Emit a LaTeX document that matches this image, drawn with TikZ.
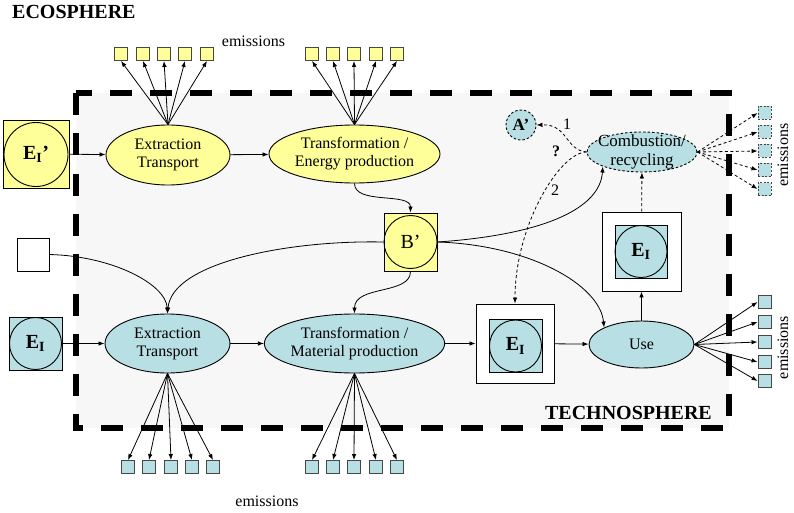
\documentclass[tikz,border=0pt]{standalone}
\usepackage{fontspec}
\setmainfont{Liberation Serif}
\usetikzlibrary{shapes.geometric,arrows.meta}
\definecolor{yfill}{RGB}{255,255,153}
\definecolor{bfill}{RGB}{184,223,227}
\definecolor{bgray}{RGB}{247,247,247}
\definecolor{boxline}{RGB}{70,70,70}
\begin{document}
\begin{tikzpicture}[x=1pt,y=-1pt,
  txt/.style={font=\fontsize{16}{18}\selectfont, align=center, inner sep=0pt},
  ell/.style={ellipse, draw, line width=0.9pt, inner sep=0pt, txt},
  arr/.style={line width=0.8pt, -{Latex[length=6pt,width=4.5pt]}},
  darr/.style={arr, dash pattern=on 3pt off 2.5pt},
  embox/.style={draw=boxline, line width=0.9pt, minimum size=13pt, inner sep=0pt},
  dembox/.style={embox, dash pattern=on 2pt off 1.5pt, fill=bfill},
  sqbox/.style={draw, line width=0.9pt, inner sep=0pt},
  ecirc/.style={circle, draw, line width=0.9pt, inner sep=0pt, font=\fontsize{20}{22}\selectfont\bfseries},
  bigtitle/.style={font=\fontsize{20}{22}\selectfont\bfseries, inner sep=0pt},
]
\useasboundingbox (0,0) rectangle (794,513);
% technosphere
\fill[bgray] (75.5,93.5) rectangle (729,428);
\draw[line width=6pt, dash pattern=on 22pt off 18pt] (75.5,93.5) rectangle (729,428);
\node[bigtitle, anchor=west] (eco) at (12,11.5) {ECOSPHERE};
\node[bigtitle, anchor=east] (techno) at (712,412.5) {TECHNOSPHERE};

% upper chain
\node[sqbox, fill=yfill, minimum width=66pt, minimum height=68pt] (eip) at (36,154) {};
\node[ecirc, minimum size=64pt] (eipc) at (36,154.5) {E\textsubscript{I}’};
\node[ell, fill=yfill, minimum width=124pt, minimum height=60pt] (ext1) at (168,155) {Extraction\\Transport};
\node[ell, fill=yfill, minimum width=171pt, minimum height=58pt] (tre) at (354.5,154) {Transformation /\\Energy production};
\node[sqbox, fill=yfill, minimum width=53pt, minimum height=58pt] (bp) at (410.5,242) {};
\node[circle, draw, line width=0.9pt, inner sep=0pt, minimum size=53pt, font=\fontsize{20}{22}\selectfont] (bpc) at (410.5,242) {B’};

% lower chain
\node[sqbox, fill=white, minimum width=32pt, minimum height=33pt] (blank) at (33,254.5) {};
\node[sqbox, fill=bfill, minimum size=53pt] (ei1) at (35.5,343.5) {};
\node[ecirc, minimum size=52pt] (ei1c) at (35.5,343.5) {E\textsubscript{I}};
\node[ell, fill=bfill, minimum width=125pt, minimum height=59pt] (ext2) at (167.5,343.5) {Extraction\\Transport};
\node[ell, fill=bfill, minimum width=171pt, minimum height=59pt] (trm) at (354.5,343.5) {Transformation /\\Material production};
\node[sqbox, fill=white, minimum width=78pt, minimum height=79pt] (ei2o) at (515,343.5) {};
\node[sqbox, fill=bfill, minimum size=53pt] (ei2) at (515.5,346) {};
\node[ecirc, minimum size=52pt] (ei2c) at (515.5,346) {E\textsubscript{I}};
\node[ell, fill=bfill, minimum width=105pt, minimum height=47pt] (use) at (641.5,344.5) {Use};
\node[sqbox, fill=white, minimum size=79pt] (ei3o) at (641.5,251.5) {};
\node[sqbox, fill=bfill, minimum width=52pt, minimum height=53pt] (ei3) at (641,251.5) {};
\node[ecirc, minimum size=52pt] (ei3c) at (641,251.5) {E\textsubscript{I}};
\node[ellipse, draw, fill=bfill, line width=0.9pt, dash pattern=on 2.5pt off 2pt, inner sep=0pt, minimum width=110pt, minimum height=40pt] (comb) at (642,152) {};
\node[txt, font=\fontsize{17}{19}\selectfont] (combt) at (642,152) {Combustion/\\recycling};
\node[circle, draw, fill=bfill, line width=0.9pt, dash pattern=on 2.5pt off 2pt, inner sep=0pt, minimum size=30pt, font=\fontsize{17}{18}\selectfont\bfseries] (ap) at (521,125) {A’};

% emission boxes
\foreach \x [count=\i] in {121,143,164,185,207}{
  \node[embox, fill=yfill] (ta\i) at (\x,54) {};
  \draw[arr] (ext1.north) -- (ta\i.south);
}
\foreach \x [count=\i] in {312,333,354,376,397}{
  \node[embox, fill=yfill] (tb\i) at (\x,54) {};
  \draw[arr] (tre.north) -- (tb\i.south);
}
\foreach \x [count=\i] in {128,149,171,192,213}{
  \node[embox, fill=bfill] (ba\i) at (\x,467) {};
  \draw[arr] (ext2.south) -- (ba\i.north);
}
\foreach \x [count=\i] in {312,333,354,376,397}{
  \node[embox, fill=bfill] (bb\i) at (\x,467) {};
  \draw[arr] (trm.south) -- (bb\i.north);
}
\foreach \y [count=\i] in {302,322,342,362,381}{
  \node[embox, fill=bfill] (ru\i) at (764.5,\y) {};
  \draw[arr] (use.east) -- (ru\i.west);
}
\foreach \y [count=\i] in {113,132,151,170,189}{
  \node[dembox] (rc\i) at (764.5,\y) {};
  \draw[darr] (comb.east) -- (rc\i.west);
}
\node[txt] (emt) at (253.5,41) {emissions};
\node[txt] (emb) at (267,501) {emissions};
\node[txt, rotate=90] (emr1) at (783,155) {emissions};
\node[txt, rotate=90] (emr2) at (783,347.5) {emissions};

% connectors
\draw[arr] (eip) -- (ext1);
\draw[arr] (ext1) -- (tre);
\draw[arr] (ei1) -- (ext2);
\draw[arr] (ext2) -- (trm);
\draw[arr] (trm) -- (ei2o);
\draw[arr] (ei2o) -- (use);
\draw[arr] (use) -- (ei3o);
\draw[darr] (ei3o) -- (comb);
\draw[arr] (tre.south) .. controls (354.5,205) and (410.5,192) .. (bp.north);
\draw[arr] (bp.south) .. controls (410.5,295) and (354.5,285) .. (trm.north);
\draw[arr] (bp.west) .. controls (290,240) and (172,262) .. (ext2.north);
\draw[arr] (blank.east) .. controls (112,256) and (166,284) .. (ext2.north);
\draw[arr] (bp.east) .. controls (540,235) and (600,210) .. (comb.south west);
\draw[arr] (bp.east) .. controls (530,245) and (600,285) .. (use.north west);
\draw[darr] (comb.west) .. controls (565,150) and (568,124) .. (ap.east);
\draw[darr] (comb.west) .. controls (560,152) and (515,225) .. (ei2o.north);
\node[txt] (l1) at (567,124) {1};
\node[txt, font=\fontsize{16}{18}\selectfont\bfseries] (lq) at (556,151) {?};
\node[txt] (l2) at (555,190) {2};
\end{tikzpicture}
\end{document}
